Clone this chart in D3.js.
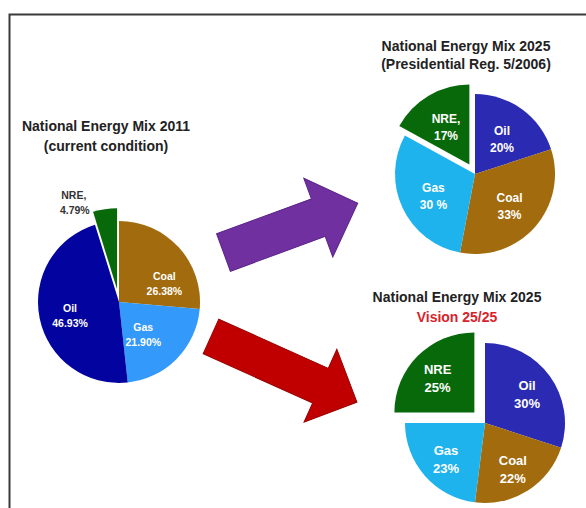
<!DOCTYPE html>
<html><head><meta charset="utf-8">
<script src="https://cdn.jsdelivr.net/npm/d3@7"></script>
<style>
html,body{margin:0;padding:0;background:#fff;}
svg{display:block;font-family:"Liberation Sans",Arial,sans-serif;}
</style></head>
<body>
<svg id="chart" width="586" height="508"></svg>
<script>
// ---- data ----
const categories2011 = ["Coal", "Gas", "Oil", "NRE,"];
const values2011 = [26.38, 21.90, 46.93, 4.79];
const labels2011 = ["26.38%", "21.90%", "46.93%", "4.79%"];

const categories2025 = ["Oil", "Coal", "Gas", "NRE,"];
const values2025 = [20, 33, 30, 17];
const labels2025 = ["20%", "33%", "30 %", "17%"];

const categoriesVision = ["Oil", "Coal", "Gas", "NRE"];
const valuesVision = [30, 22, 23, 25];
const labelsVision = ["30%", "22%", "23%", "25%"];

const titles2011 = ["National Energy Mix 2011", "(current condition)"];
const titles2025 = ["National Energy Mix 2025", "(Presidential Reg. 5/2006)"];
const titlesVision = ["National Energy Mix 2025", "Vision 25/25"];

// ---- drawing ----
const svg = d3.select("#chart");

// frame
svg.append("path").attr("d", "M9.5,508 V14.5 H586")
  .attr("fill", "none").attr("stroke", "#3a3a3a").attr("stroke-width", 2);

const colors1 = {Coal: "#a26b0e", Gas: "#3399fb", Oil: "#03039f", "NRE,": "#08690b", NRE: "#08690b"};
const colors2 = {Coal: "#a26b0e", Gas: "#1fb3ee", Oil: "#2a2ab2", "NRE,": "#08690b", NRE: "#08690b"};

function drawPie(cfg) {
  const data = cfg.categories.map((c, i) => ({cat: c, value: cfg.values[i], label: cfg.labels[i]}));
  const pie = d3.pie().sort(null).value(d => d.value);
  const arcs = pie(data);
  const arc = d3.arc().innerRadius(0).outerRadius(cfg.r);
  const labelArc = d3.arc().innerRadius(cfg.labelR).outerRadius(cfg.labelR);
  const g = svg.append("g").attr("transform", `translate(${cfg.cx},${cfg.cy})`);
  arcs.forEach(a => {
    const mid = (a.startAngle + a.endAngle) / 2;
    const off = a.data.cat.startsWith("NRE") ? cfg.explode : 0;
    const dx = Math.sin(mid) * off, dy = -Math.cos(mid) * off;
    const sg = g.append("g").attr("transform", `translate(${dx},${dy})`);
    sg.append("path").attr("d", arc(a)).attr("fill", cfg.colors[a.data.cat]);
    if (cfg.outsideNRE && a.data.cat.startsWith("NRE")) {
      const p = d3.arc().innerRadius(cfg.r + 14).outerRadius(cfg.r + 14).centroid(a);
      const t = sg.append("text").attr("text-anchor", "middle")
        .attr("font-size", cfg.labelSize).attr("font-weight", "bold").attr("fill", "#333");
      t.append("tspan").attr("x", p[0] - 29).attr("y", p[1] + 4).text(a.data.cat);
      t.append("tspan").attr("x", p[0] - 28).attr("y", p[1] + 19).text(a.data.label);
    } else {
      const s = cfg.shift[a.data.cat] || [0, 0];
      const p = labelArc.centroid(a);
      const t = sg.append("text").attr("text-anchor", "middle")
        .attr("font-size", cfg.labelSize).attr("font-weight", "bold").attr("fill", "#fff");
      t.append("tspan").attr("x", p[0] + s[0]).attr("y", p[1] - 2 + s[1]).text(a.data.cat);
      t.append("tspan").attr("x", p[0] + s[0]).attr("y", p[1] + cfg.labelSize + 3 + s[1]).text(a.data.label);
    }
  });
  // titles
  const tt = svg.append("text").attr("text-anchor", "middle")
    .attr("font-size", 14).attr("font-weight", "bold").attr("fill", "#222");
  tt.append("tspan").attr("x", cfg.tx).attr("y", cfg.ty).text(cfg.titles[0]);
  tt.append("tspan").attr("x", cfg.tx).attr("y", cfg.ty + cfg.tgap)
    .attr("fill", cfg.subColor || "#222").text(cfg.titles[1]);
}

drawPie({categories: categories2011, values: values2011, labels: labels2011,
  cx: 119, cy: 302, r: 81, labelR: 48, explode: 13, colors: colors1, labelSize: 10.5,
  outsideNRE: true, shift: {Coal: [10, 12], Gas: [-10, -3], Oil: [-2, 2]},
  titles: titles2011, tx: 106, ty: 131, tgap: 20});

drawPie({categories: categories2025, values: values2025, labels: labels2025,
  cx: 475, cy: 174, r: 80, labelR: 46, explode: 11, colors: colors2, labelSize: 12,
  shift: {}, titles: titles2025, tx: 466, ty: 51, tgap: 18});

drawPie({categories: categoriesVision, values: valuesVision, labels: labelsVision,
  cx: 485, cy: 423, r: 80, labelR: 52, explode: 15, colors: colors2, labelSize: 13,
  shift: {}, titles: titlesVision, tx: 457, ty: 302, tgap: 20, subColor: "#d9232b"});

// arrows (decorative)
function arrow(x, y, angle, len, halfShaft, halfHead, headLen, fill, stroke) {
  const pts = [[0, -halfShaft], [len - headLen, -halfShaft], [len - headLen, -halfHead], [len, 0],
               [len - headLen, halfHead], [len - headLen, halfShaft], [0, halfShaft]];
  svg.append("path").attr("d", d3.line()(pts) + "Z")
    .attr("transform", `translate(${x},${y}) rotate(${angle})`)
    .attr("fill", fill).attr("stroke", stroke).attr("stroke-width", 1);
}
arrow(223.5, 252.5, -20.2, 143, 20, 42, 42, "#7030a0", "#5a2388");
arrow(211, 336.5, 24.2, 160, 19, 40, 40, "#c00000", "#9a0000");
</script>
</body></html>
